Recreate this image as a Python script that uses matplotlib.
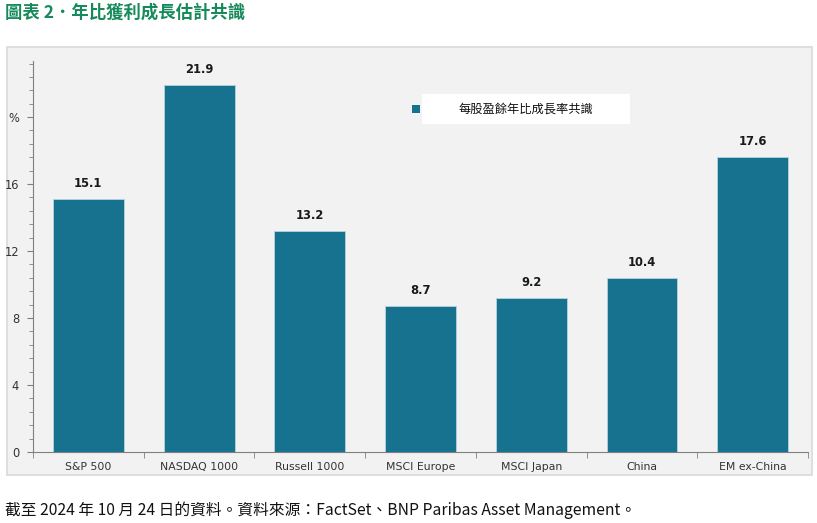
import matplotlib
matplotlib.use('Agg')
import matplotlib.pyplot as plt
from matplotlib.patches import Rectangle
from matplotlib.ticker import MultipleLocator, FixedLocator
import numpy as np

plt.rcParams['font.family'] = ['DejaVu Sans', 'Noto Sans CJK TC']

categories = ['S&P 500', 'NASDAQ 1000', 'Russell 1000', 'MSCI Europe',
              'MSCI Japan', 'China', 'EM ex-China']
values = [15.1, 21.9, 13.2, 8.7, 9.2, 10.4, 17.6]
y_ticks = [0, 4, 8, 12, 16, 20]
y_ticklabels = ['0', '4', '8', '12', '16', '%']
legend_label = '每股盈餘年比成長率共識'
title = '圖表 2．年比獲利成長估計共識'
footnote = '截至 2024 年 10 月 24 日的資料。資料來源：FactSet、BNP Paribas Asset Management。'

bar_color = '#17728f'
W, H = 817, 523
fig = plt.figure(figsize=(W / 100, H / 100), dpi=100)

# chart frame (behind the axes)
frame = Rectangle((7 / W, 1 - 475 / H), 805 / W, 428 / H, transform=fig.transFigure,
                  facecolor='#f2f2f2', edgecolor='#d9d9d9', linewidth=1.2, zorder=-5)
fig.patches.append(frame)

ax = fig.add_axes([33 / W, 1 - 452 / H, 775 / W, 391 / H])
ax.set_zorder(1)
ax.set_facecolor('none')
x = np.arange(len(categories))
ax.bar(x, values, width=0.64, color=bar_color, edgecolor='#b8d3dc', linewidth=0.6)
for xi, v in zip(x, values):
    ax.text(xi, v + 0.55, f'{v}', ha='center', va='bottom', fontsize=8.3,
            fontweight='bold', color='#1a1a1a')

ax.set_xlim(-0.5, len(categories) - 0.5)
ax.set_ylim(0, 23.35)
for s in ['top', 'right']:
    ax.spines[s].set_visible(False)
for s in ['left', 'bottom']:
    ax.spines[s].set_color('#7f7f7f')
    ax.spines[s].set_linewidth(0.8)

ax.set_xticks(x)
ax.set_xticklabels(categories, fontsize=7.8, color='#333333')
ax.xaxis.set_minor_locator(FixedLocator(np.arange(-0.5, len(categories), 1.0)))
ax.tick_params(axis='x', which='major', length=0, pad=7)
ax.tick_params(axis='x', which='minor', length=4, color='#7f7f7f', direction='out')

ax.set_yticks(y_ticks)
ax.set_yticklabels(y_ticklabels, fontsize=8.3, color='#333333')
ax.yaxis.set_minor_locator(MultipleLocator(0.8))
ax.tick_params(axis='y', which='major', length=4, color='#7f7f7f', pad=6)
ax.tick_params(axis='y', which='minor', length=3, color='#7f7f7f')

# legend
fig.patches.append(Rectangle((412 / W, 1 - 113 / H), 8 / W, 8 / H, transform=fig.transFigure,
                             facecolor=bar_color, edgecolor='none', zorder=5))
fig.patches.append(Rectangle((422 / W, 1 - 124 / H), 208 / W, 30 / H, transform=fig.transFigure,
                             facecolor='white', edgecolor='none', zorder=5))
fig.text(526 / W, 1 - 109 / H, legend_label, ha='center', va='center', fontsize=8.8,
         family=['Noto Sans CJK TC'], color='#111111', zorder=6)

fig.text(5 / W, 1 - 13 / H, title, ha='left', va='center', fontsize=12.5, fontweight='bold',
         family=['Noto Sans CJK TC', 'DejaVu Sans'], color='#168a5b')
fig.text(5 / W, 1 - 510 / H, footnote, ha='left', va='center', fontsize=11.3,
         family=['Noto Sans CJK TC', 'DejaVu Sans'], color='#111111')

fig.savefig('out.png', dpi=100)
